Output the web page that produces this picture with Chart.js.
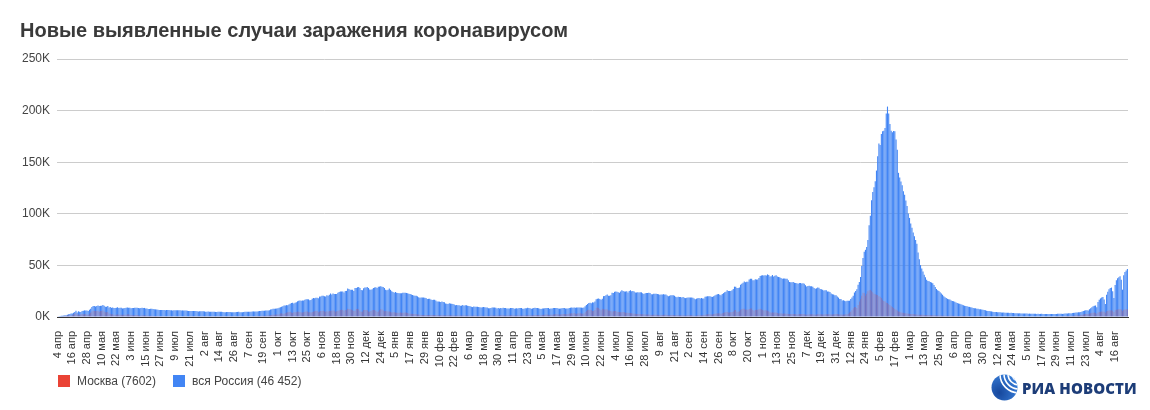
<!DOCTYPE html>
<html>
<head>
<meta charset="utf-8">
<script src="https://cdn.jsdelivr.net/npm/chart.js@4.4.1/dist/chart.umd.min.js"></script>
<style>
  html, body { margin: 0; padding: 0; background: #fff; }
  #wrap { position: relative; width: 1150px; height: 410px; overflow: hidden; font-family: "Liberation Sans", Arial, sans-serif; }
  #chart { position: absolute; left: 0; top: 0; }
  #title { position: absolute; left: 20px; top: 19px; font-size: 20px; line-height: 23px; font-weight: bold; color: #3a3a3a; white-space: nowrap; }
  #legend { position: absolute; left: 58px; top: 375px; display: flex; font-size: 12px; line-height: 12px; color: #444; }
  .item { display: flex; align-items: center; margin-right: 17px; }
  .sw { width: 12px; height: 12px; margin-right: 7px; }
  #logo { position: absolute; left: 991px; top: 374px; display: flex; align-items: center; }
  #logo span { margin-left: 4px; font-family: "Open Sans", sans-serif; font-weight: 800; font-size: 15px; color: #1d3d78; letter-spacing: 0.1px; }
</style>
</head>
<body>
<div id="wrap">
  <canvas id="chart" width="1150" height="410"></canvas>
  <div id="title">Новые выявленные случаи заражения коронавирусом</div>
  <div id="legend"></div>
  <div id="logo">
    <svg width="27" height="27" viewBox="0 0 27 27">
      <defs>
        <clipPath id="ball"><circle cx="13.5" cy="13.5" r="13"/></clipPath>
        <radialGradient id="shade" cx="0.3" cy="0.7" r="0.9">
          <stop offset="0" stop-color="#16479c"/>
          <stop offset="1" stop-color="#3d86e2"/>
        </radialGradient>
      </defs>
      <circle cx="13.5" cy="13.5" r="13" fill="url(#shade)"/>
      <g clip-path="url(#ball)" fill="none" stroke="#fff" stroke-width="1.6">
        <circle cx="28" cy="0" r="7"/>
        <circle cx="28" cy="0" r="11"/>
        <circle cx="28" cy="0" r="15"/>
        <circle cx="28" cy="0" r="19"/>
      </g>
    </svg>
    <span>РИА НОВОСТИ</span>
  </div>
</div>
<script>
// daily new cases, thousands; first day is 4 Apr 2020
const monthNames = ['янв', 'фев', 'мар', 'апр', 'мая', 'июн', 'июл', 'авг', 'сен', 'окт', 'ноя', 'дек'];
const labelEvery = 12;

const russia2020 = [
  0.6,0.7,1.0,1.2,1.2,1.5,1.8,1.7,2.2,2.6,2.8,3.4,3.4,4.1,4.8,6.1,4.3,5.6,5.2,4.8,5.8,6.0,6.4,6.2,6.4,5.8,7.1,
  7.9,9.6,10.6,10.6,10.1,10.6,11.2,10.7,10.8,11.0,11.7,10.9,10.0,10.0,10.6,9.2,9.7,8.9,9.3,8.8,8.8,8.9,9.4,8.6,8.9,8.9,8.3,8.4,8.6,9.0,9.3,
  9.0,8.9,8.5,8.8,8.7,8.9,9.0,9.0,8.6,8.4,8.8,9.0,8.7,8.8,8.2,8.2,7.8,7.8,8.0,7.9,7.7,7.6,7.4,7.2,7.1,6.8,6.9,6.8,6.7,6.7,
  6.6,6.8,6.7,6.7,6.6,6.6,6.4,6.6,6.5,6.6,6.6,6.6,6.5,6.2,6.4,6.4,6.4,6.2,6.1,5.9,5.8,5.9,5.8,5.8,5.9,5.8,5.6,5.4,5.5,5.5,5.5,
  5.5,5.4,5.2,5.2,5.3,5.2,5.2,5.2,5.1,5.1,4.9,4.9,5.1,5.1,5.1,5.0,4.8,4.7,4.7,4.8,4.9,4.9,4.9,4.7,4.7,4.7,4.7,4.8,4.9,5.0,4.7,
  4.7,4.7,4.9,5.0,5.2,5.2,5.1,5.1,5.1,5.4,5.4,5.4,5.4,5.4,5.5,5.7,5.8,6.1,6.1,6.1,6.2,6.4,6.4,6.6,7.2,7.5,7.9,8.1,8.1,8.2,
  8.5,9.0,9.4,10.0,10.5,11.1,11.1,11.5,11.5,12.1,12.8,13.6,13.9,13.0,13.8,14.2,15.2,15.7,15.9,15.7,15.9,16.0,16.6,17.3,17.3,17.1,16.2,16.5,17.7,18.3,18.1,
  18.7,18.7,18.1,19.8,19.8,20.6,20.5,20.1,19.8,21.0,20.6,21.6,22.7,21.8,22.8,22.4,22.3,22.4,23.6,24.3,24.6,24.8,24.6,23.7,25.2,25.3,27.5,27.1,26.3,26.3,
  26.4,25.3,28.1,28.1,28.8,29.0,28.1,26.1,26.0,27.9,28.6,28.6,29.1,28.1,26.7,26.4,27.0,28.2,28.6,28.9,28.0,29.3,29.5,29.9,29.4,29.0,28.1,26.5,26.0,26.5,27.7
];
const russia2021 = [
  26.3,25.0,24.2,23.4,24.2,23.5,23.3,23.0,22.9,22.9,23.4,23.6,23.5,23.3,23.0,22.6,22.3,21.8,21.4,20.9,20.6,20.5,20.0,19.2,18.7,18.8,19.0,19.0,18.6,18.3,17.5,
  17.6,17.6,17.0,16.5,16.6,16.7,16.0,15.0,14.9,14.9,14.5,15.0,14.6,14.2,13.2,12.8,12.7,13.4,13.0,12.9,12.6,12.1,11.4,11.7,11.5,11.5,11.0,11.0,
  11.6,11.0,11.4,11.4,11.0,10.6,10.5,10.0,9.6,10.1,10.0,10.0,10.0,9.6,9.4,9.1,9.5,9.6,9.5,9.3,9.2,8.5,8.4,8.8,9.1,9.1,9.1,9.0,8.3,8.6,8.3,
  8.6,8.5,9.0,8.7,8.6,8.3,8.3,8.3,8.7,8.8,8.7,8.1,8.3,8.5,8.3,8.7,8.7,8.7,8.1,8.1,8.4,8.5,8.9,8.8,8.5,8.1,8.3,8.8,9.0,8.7,
  8.7,8.4,8.0,7.8,8.3,8.3,8.4,8.6,8.7,8.8,8.0,8.3,8.2,8.6,8.6,8.7,8.6,8.3,8.1,8.2,8.4,8.6,8.7,8.2,8.2,8.3,8.8,9.0,9.1,9.0,9.3,
  9.0,9.1,9.2,9.3,9.1,9.1,9.0,9.1,10.4,11.7,12.5,13.5,13.7,13.4,14.2,14.0,15.0,17.3,17.6,17.9,17.4,16.7,17.6,20.2,20.4,21.0,21.7,20.5,20.6,21.0,
  23.5,23.2,24.4,24.6,24.4,23.9,23.5,24.6,25.8,25.1,24.7,24.7,25.0,23.8,25.3,25.8,25.0,25.1,24.7,23.8,23.8,24.1,23.8,24.0,23.9,23.0,22.2,23.1,23.3,23.3,23.6,
  23.3,22.1,22.0,22.6,22.6,22.6,22.2,22.1,21.6,21.9,21.9,22.1,21.9,21.9,20.8,20.1,20.6,21.0,21.1,21.0,20.6,19.7,19.2,19.6,19.5,19.4,18.9,19.3,18.6,18.3,18.6,
  18.9,18.9,18.9,18.8,18.6,17.9,17.3,17.8,18.1,18.3,18.0,18.4,18.0,18.0,19.6,19.9,20.2,20.2,20.1,19.7,19.5,20.2,20.8,21.5,22.0,22.2,21.6,21.0,22.4,23.1,
  23.9,24.5,25.8,25.1,25.1,25.1,26.0,27.2,29.4,29.3,28.2,28.2,28.7,31.3,32.2,33.2,34.3,33.7,34.1,34.1,36.3,37.1,37.1,35.7,35.7,36.6,36.3,36.3,37.7,39.8,40.3,
  40.4,40.1,40.4,40.2,41.3,40.7,39.2,39.4,40.8,39.2,40.0,40.4,39.3,38.8,38.6,37.9,37.1,37.4,37.2,37.1,37.1,35.7,33.9,33.6,33.6,34.0,33.2,32.9,32.6,32.1,
  32.9,33.0,32.4,32.6,32.1,30.8,29.6,30.1,30.4,29.9,29.7,29.2,28.2,27.4,27.8,28.5,28.4,27.2,27.0,26.5,25.6,26.0,25.8,24.7,24.7,24.2,22.8,22.1,21.7,21.1,21.1
];
const russia2022 = [
  19.8,18.8,17.5,17.4,16.0,16.2,15.8,15.3,15.7,15.8,15.8,17.5,19.0,20.7,23.8,25.1,26.8,31.3,33.9,38.8,49.5,57.2,63.2,65.1,67.8,74.7,88.8,98.0,113.1,121.2,125.8,
  131.5,141.9,155.8,168.2,166.6,177.3,180.1,180.5,183.1,197.1,203.9,197.1,187.0,180.5,179.1,180.3,180.1,171.9,162.0,139.7,135.2,131.3,127.6,121.8,118.4,112.9,107.5,100.2,
  96.0,90.5,86.4,82.0,78.3,74.6,71.0,62.5,56.0,50.3,47.1,44.2,41.0,38.4,36.2,35.0,34.6,34.0,33.4,32.8,31.0,29.1,27.2,26.0,25.1,24.0,22.8,21.5,20.1,19.2,18.3,
  17.6,17.2,16.9,16.0,15.5,15.3,14.8,14.0,13.6,13.1,12.9,12.4,11.8,11.5,11.0,10.6,10.4,10.0,9.8,9.5,9.1,8.8,8.5,8.4,8.1,7.9,7.6,7.5,7.2,7.0,
  6.8,6.6,6.1,5.9,5.8,5.5,5.4,5.0,4.9,4.9,4.8,4.6,4.6,4.5,4.4,4.3,4.4,4.2,4.1,4.1,4.0,3.9,4.0,3.8,3.8,3.7,3.7,3.6,3.5,3.6,3.5,
  3.5,3.4,3.4,3.3,3.3,3.2,3.3,3.2,3.1,3.2,3.1,3.1,3.0,3.1,3.0,3.0,3.1,3.0,2.9,3.0,3.0,2.9,3.0,2.9,2.9,3.0,2.9,3.0,3.0,3.1,
  3.1,3.1,3.2,3.0,3.2,3.3,3.4,3.5,3.6,3.6,3.5,3.8,4.0,4.1,4.3,4.4,4.5,4.6,4.9,5.3,5.8,6.2,6.5,6.6,6.4,7.5,8.4,9.4,10.3,10.8,11.2,
  9.5,14.5,16.8,18.0,19.0,19.5,17.0,12.5,21.5,24.5,26.8,28.0,28.5,25.0,18.5,31.0,35.5,37.5,38.5,39.5,36.0,26.5,40.5,43.5,45.0,46.452
];

const moscow2020 = [
  0.3,0.4,0.6,0.7,0.6,0.9,1.1,1.0,1.4,1.6,1.4,1.5,1.8,2.6,3.1,3.6,2.2,2.6,1.9,2.5,2.8,2.4,2.8,2.7,2.2,2.2,3.1,
  4.1,5.4,6.0,5.9,5.8,5.9,5.8,5.0,5.7,5.9,6.2,5.4,4.7,4.5,4.8,3.5,3.2,2.7,2.7,2.2,2.2,2.1,2.7,2.3,2.1,2.1,2.1,2.1,2.1,2.3,2.6,
  2.6,2.3,2.0,1.6,1.6,1.6,1.9,2.0,1.6,1.2,1.2,1.6,1.5,1.6,1.4,1.1,1.2,1.1,1.1,1.1,1.0,1.0,0.9,0.9,0.9,0.8,0.8,0.7,0.7,0.7,
  0.65,0.68,0.70,0.71,0.66,0.69,0.62,0.60,0.64,0.65,0.63,0.62,0.60,0.57,0.60,0.62,0.63,0.61,0.59,0.58,0.62,0.63,0.61,0.64,0.67,0.69,0.66,0.64,0.68,0.70,0.69,
  0.68,0.69,0.66,0.67,0.69,0.68,0.69,0.68,0.66,0.67,0.65,0.64,0.68,0.67,0.66,0.64,0.63,0.61,0.62,0.64,0.66,0.65,0.65,0.63,0.64,0.62,0.63,0.64,0.66,0.68,0.67,
  0.68,0.68,0.70,0.70,0.72,0.74,0.73,0.75,0.73,0.77,0.82,0.82,0.87,0.95,0.98,1.05,1.05,1.18,1.22,1.29,1.30,1.53,1.56,1.70,1.79,2.02,2.22,2.30,2.35,2.53,
  2.42,2.70,3.33,3.54,3.23,3.23,3.73,4.41,4.50,4.88,4.99,4.29,3.77,4.50,4.53,4.63,5.37,5.05,4.84,4.44,4.42,4.51,5.05,5.23,5.22,4.49,4.59,4.29,4.81,5.26,5.59,
  5.78,5.76,4.71,5.40,5.79,5.86,6.12,5.48,5.19,5.50,5.22,5.90,6.07,6.12,6.27,6.02,5.12,5.48,5.88,6.44,6.90,7.17,6.88,6.03,6.75,6.59,7.92,7.87,7.61,7.23,
  6.56,5.89,6.16,7.74,7.99,7.39,6.10,5.17,5.33,6.68,6.79,6.80,6.46,5.26,5.10,5.87,6.47,6.71,6.88,6.04,5.19,5.24,6.72,7.56,7.20,6.32,5.61,5.88,5.56,5.37,5.39
];
const moscow2021 = [
  5.10,4.35,4.66,4.62,4.48,4.16,4.19,4.01,4.33,4.15,4.04,4.10,4.30,4.31,3.89,3.47,3.26,3.16,3.10,3.00,2.83,2.70,2.37,2.41,2.25,2.01,1.98,2.04,2.03,1.93,1.97,
  1.82,1.90,2.03,1.99,1.99,1.98,1.91,1.62,1.70,1.80,1.79,1.76,1.75,1.70,1.58,1.52,1.65,1.64,1.61,1.55,1.50,1.42,1.36,1.45,1.43,1.46,1.40,1.36,
  1.48,1.42,1.43,1.47,1.40,1.38,1.32,1.19,1.21,1.35,1.40,1.37,1.30,1.25,1.17,1.21,1.31,1.30,1.28,1.26,1.22,1.17,1.24,1.34,1.48,1.50,1.49,1.42,1.33,1.57,1.61,
  1.68,1.64,1.62,1.54,1.40,1.50,1.57,1.62,1.63,1.61,1.51,1.37,1.47,1.56,1.58,1.54,1.52,1.50,1.36,1.43,1.55,1.61,1.78,1.76,1.64,1.53,1.58,1.78,1.92,1.99,
  2.04,1.95,1.75,1.60,2.00,2.16,2.25,2.34,2.38,2.30,1.83,2.12,2.30,2.45,2.66,2.71,2.59,2.52,2.34,2.53,2.70,2.95,2.98,2.63,2.75,2.90,3.30,3.50,3.70,3.40,3.80,
  3.10,3.20,3.40,3.60,3.70,3.30,3.10,3.40,4.70,5.80,6.70,7.00,7.00,6.60,5.80,5.80,6.70,9.06,9.12,8.60,7.70,6.55,7.92,7.60,7.20,7.40,7.20,6.30,6.30,5.80,
  5.4,5.6,5.9,5.7,5.2,4.9,4.8,4.7,4.7,4.9,4.5,4.1,4.0,4.0,3.9,3.8,3.6,3.4,3.2,3.1,3.0,3.0,2.9,2.8,2.7,2.6,2.6,2.5,2.5,2.4,2.4,
  2.3,2.0,2.1,2.2,2.2,2.2,2.1,2.0,1.8,1.9,2.0,2.1,2.1,2.1,1.9,1.7,1.8,1.9,1.9,1.9,1.8,1.6,1.6,1.6,1.7,1.6,1.5,1.6,1.5,1.4,1.5,
  1.6,1.6,1.6,1.6,1.5,1.3,1.2,1.5,1.6,1.7,1.7,1.8,1.8,1.9,2.3,2.5,2.7,2.7,2.6,2.4,2.5,2.9,3.1,3.4,3.5,3.6,3.3,3.1,3.7,4.0,
  4.3,4.5,4.8,4.3,4.3,4.6,4.9,5.3,6.5,6.8,5.2,5.1,5.5,7.0,7.5,8.0,8.1,7.0,7.2,7.1,7.8,8.3,8.3,6.8,6.1,6.7,7.0,7.1,7.6,8.1,7.5,
  6.9,6.4,6.6,6.3,6.2,5.6,4.7,4.2,4.6,4.2,4.4,4.4,3.9,3.5,3.4,3.6,3.2,3.3,3.3,3.2,3.1,3.0,2.8,2.8,2.8,2.9,2.8,2.6,2.5,2.6,
  2.8,2.9,2.9,2.8,2.6,2.4,2.3,2.5,2.6,2.6,2.6,2.6,2.4,2.3,2.5,2.7,2.7,2.6,2.6,2.5,2.5,2.7,2.7,2.6,2.6,2.6,2.4,2.5,2.6,2.7,2.8
];
const moscow2022 = [
  2.8,2.6,2.5,2.4,2.3,2.4,2.5,2.6,2.7,3.2,4.4,5.0,6.5,8.5,9.6,9.8,8.7,11.6,15.0,17.5,20.6,23.5,23.0,20.7,22.5,25.0,26.0,26.5,25.5,24.0,22.5,
  22.0,21.6,21.3,20.2,19.6,18.3,16.6,15.4,14.9,13.9,13.5,12.4,11.6,10.4,9.6,8.8,7.9,7.1,6.3,5.4,5.1,4.7,4.2,4.1,3.7,3.6,3.4,3.1,
  3.2,3.0,2.9,2.8,2.6,2.5,2.5,2.3,2.3,2.2,2.1,2.1,2.0,2.0,1.9,1.8,1.9,1.8,1.7,1.6,1.7,1.6,1.5,1.5,1.5,1.4,1.4,1.3,1.4,1.3,1.3,
  1.3,1.2,1.2,1.1,1.1,1.1,1.0,1.0,1.0,1.0,0.95,0.92,0.90,0.88,0.90,0.85,0.83,0.80,0.82,0.80,0.78,0.76,0.74,0.73,0.74,0.71,0.70,0.72,0.70,0.68,
  0.66,0.64,0.62,0.60,0.61,0.60,0.58,0.55,0.54,0.55,0.56,0.58,0.57,0.56,0.53,0.52,0.55,0.56,0.55,0.54,0.53,0.52,0.50,0.52,0.53,0.54,0.55,0.53,0.50,0.52,0.54,
  0.55,0.56,0.57,0.55,0.52,0.50,0.54,0.56,0.57,0.55,0.52,0.50,0.48,0.52,0.55,0.56,0.57,0.55,0.52,0.50,0.55,0.58,0.60,0.61,0.60,0.58,0.60,0.64,0.66,0.68,
  0.70,0.72,0.70,0.68,0.75,0.80,0.85,0.90,0.95,0.95,0.90,1.05,1.20,1.35,1.50,1.60,1.55,1.50,1.90,2.20,2.50,2.80,3.00,2.90,2.60,3.30,3.70,4.00,4.20,4.30,3.90,
  3.2,4.3,4.8,5.1,5.3,5.4,5.0,4.0,5.6,5.9,6.2,6.4,6.5,6.0,4.8,6.6,7.0,7.3,7.6,7.8,7.3,5.8,7.0,7.3,7.5,7.602
];

const yTicks = [0, 50, 100, 150, 200, 250];

const russia = [...russia2020, ...russia2021, ...russia2022];
const moscow = [...moscow2020, ...moscow2021, ...moscow2022];
if (russia.length !== 875 || moscow.length !== 875) {
  throw new Error('lengths: ' + russia.length + ' / ' + moscow.length);
}

const days = russia.map((v, i) => {
  const d = new Date(Date.UTC(2020, 3, 4 + i));
  return d.getUTCDate() + ' ' + monthNames[d.getUTCMonth()];
});

const colors = { moscow: '#ea4335', russia: '#4285f4' };
const seriesNames = { moscow: 'Москва (7602)', russia: 'вся Россия (46 452)' };

// legend
const legend = document.getElementById('legend');
['moscow', 'russia'].forEach(key => {
  const item = document.createElement('div');
  item.className = 'item';
  item.innerHTML = '<div class="sw" style="background:' + colors[key] + '"></div><span>' + seriesNames[key] + '</span>';
  legend.appendChild(item);
});

Chart.defaults.font.family = '"Liberation Sans", Arial, sans-serif';

new Chart(document.getElementById('chart'), {
  type: 'bar',
  data: {
    labels: days,
    datasets: [
      {
        label: seriesNames.moscow,
        data: moscow,
        backgroundColor: 'rgba(234, 67, 53, 0.4)',
        grouped: false,
        barPercentage: 0.5,
        categoryPercentage: 1
      },
      {
        label: seriesNames.russia,
        data: russia,
        backgroundColor: colors.russia,
        grouped: false,
        barPercentage: 0.9,
        categoryPercentage: 1
      }
    ]
  },
  options: {
    responsive: false,
    animation: false,
    layout: { padding: { top: 59, right: 22, left: 0, bottom: 0 } },
    plugins: { legend: { display: false }, tooltip: { enabled: false }, title: { display: false } },
    scales: {
      x: {
        grid: { display: false },
        border: { display: true, color: '#333' },
        ticks: {
          autoSkip: false,
          minRotation: 90,
          maxRotation: 90,
          padding: 6,
          color: '#333',
          font: { size: 11 }
        },
        afterBuildTicks: axis => { axis.ticks = axis.ticks.filter((t, i) => i % labelEvery === 0); },
        afterFit: axis => { axis.height = 93; }
      },
      y: {
        min: yTicks[0],
        max: yTicks[yTicks.length - 1],
        grid: { color: ctx => ctx.tick && ctx.tick.value === 0 ? 'rgba(0,0,0,0)' : '#cccccc', drawTicks: false },
        border: { display: false },
        afterBuildTicks: axis => { axis.ticks = yTicks.map(v => ({ value: v })); },
        ticks: {
          padding: 7,
          color: '#444',
          font: { size: 12 },
          callback: v => v + 'K'
        },
        afterFit: axis => { axis.width = 57; }
      }
    }
  }
});
</script>
</body>
</html>
